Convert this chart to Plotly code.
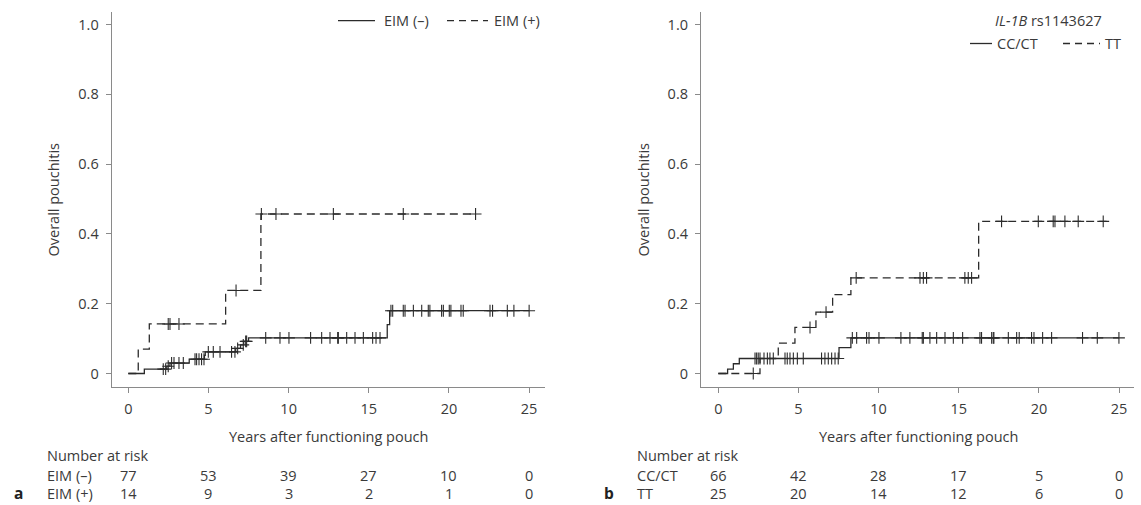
import numpy as np
import plotly.graph_objects as go

# ---------------- data ----------------
x_ticks = [0, 5, 10, 15, 20, 25]
y_ticks = [0, 0.2, 0.4, 0.6, 0.8, 1.0]
y_ticktext = ["0", "0.2", "0.4", "0.6", "0.8", "1.0"]

# Panel a: EIM (-) solid
a_neg_event_t = [1.0, 2.4, 2.6, 3.8, 4.75, 4.8, 6.7, 7.0, 7.2, 7.5, 16.15, 16.3]
a_neg_event_v = [0.0125, 0.021, 0.030, 0.041, 0.052, 0.062, 0.072, 0.082, 0.092, 0.102, 0.14, 0.18]
a_neg_end = 25.0
a_neg_censor = [2.18, 2.33, 2.49, 2.70, 2.85, 3.16, 3.43, 4.16, 4.26, 4.41, 4.57, 4.72,
                4.99, 5.30, 5.72, 6.44, 6.65, 6.82, 7.17, 7.32, 7.38, 8.57, 9.46, 10.02,
                11.37, 12.06, 12.58, 13.06, 13.10, 13.62, 14.14, 14.66, 15.24, 15.45,
                15.70, 16.38, 16.49, 17.15, 17.26, 17.78, 18.30, 18.71, 18.81, 19.54,
                19.65, 20.02, 20.12, 20.75, 20.89, 22.56, 22.72, 23.64, 24.05, 25.0]

# Panel a: EIM (+) dashed
a_pos_event_t = [0.62, 1.31, 6.07, 8.27]
a_pos_event_v = [0.070, 0.142, 0.238, 0.457]
a_pos_end = 21.66
a_pos_censor = [2.49, 2.60, 3.16, 6.72, 8.3, 9.21, 12.79, 17.15, 21.66]

# Panel b: CC/CT solid
b_cc_event_t = [0.58, 0.94, 1.31, 7.53, 8.27]
b_cc_event_v = [0.0125, 0.028, 0.043, 0.074, 0.102]
b_cc_end = 25.0
b_cc_censor = [2.29, 2.39, 2.49, 2.60, 2.85, 3.06, 3.22, 3.43, 4.16, 4.30, 4.47, 4.68,
               4.93, 5.30, 6.44, 6.65, 6.86, 7.07, 7.28, 7.48, 8.36, 8.63, 9.25, 9.40,
               10.02, 11.39, 11.95, 12.72, 12.79, 13.20, 13.62, 14.14, 14.66, 15.24,
               16.32, 16.42, 17.05, 17.15, 17.19, 18.09, 18.61, 18.77, 19.54, 19.69,
               20.23, 20.79, 22.72, 23.64, 24.99]

# Panel b: TT dashed
b_tt_event_t = [2.6, 3.74, 4.78, 6.09, 7.13, 8.27, 16.24]
b_tt_event_v = [0.043, 0.087, 0.132, 0.176, 0.226, 0.274, 0.436]
b_tt_end = 24.22
b_tt_censor = [2.18, 5.72, 6.72, 8.6, 12.58, 12.79, 12.99, 15.38, 15.59, 15.80,
               17.67, 19.96, 20.89, 21.00, 21.62, 22.45, 24.01]

# Number at risk
risk_a_labels = ["EIM (\u2013)", "EIM (+)"]
risk_a_neg = [77, 53, 39, 27, 10, 0]
risk_a_pos = [14, 9, 3, 2, 1, 0]
risk_b_labels = ["CC/CT", "TT"]
risk_b_cc = [66, 42, 28, 17, 5, 0]
risk_b_tt = [25, 20, 14, 12, 6, 0]

# ---------------- style ----------------
W, H = 1141, 505
FONT = "Open Sans"
TXT = "#3a3a3a"
LINE = "#2b2b2b"
AXIS = "#8a8a8a"
FS = 14.5
DASH = "8px,5px"

def px(x):
    return x / W

def py(y):
    return 1 - y / H

# plot areas in pixels
A_X0, A_X1 = 111.7, 545.0
B_X0, B_X1 = 701.0, 1134.0
Y_TOP, Y_BOT = 11.7, 387.3
XR_A = [-1.036, 25.99]
XR_B = [-1.08, 25.93]
YR = [-0.0395, 1.0367]


def step_xy(times, vals, end):
    xs = [0.0] + list(times) + [end]
    ys = [0.0] + list(vals) + [vals[-1]]
    return xs, ys


def step_lookup(times, vals, t):
    y = 0.0
    for ti, vi in zip(times, vals):
        if t >= ti - 1e-9:
            y = vi
    return y


fig = go.Figure()


def add_curve(times, vals, end, censor, dash, xa, ya):
    xs, ys = step_xy(times, vals, end)
    fig.add_trace(go.Scatter(x=xs, y=ys, mode="lines", line_shape="hv",
                             line=dict(color=LINE, width=1.3, dash=dash),
                             xaxis=xa, yaxis=ya, showlegend=False, hoverinfo="skip"))
    cy = [step_lookup(times, vals, t) for t in censor]
    fig.add_trace(go.Scatter(x=censor, y=cy, mode="markers",
                             marker=dict(symbol="cross-thin", size=8.5, color=LINE,
                                         line=dict(width=1.1, color=LINE)),
                             xaxis=xa, yaxis=ya, showlegend=False, hoverinfo="skip"))


add_curve(a_neg_event_t, a_neg_event_v, a_neg_end, a_neg_censor, "solid", "x", "y")
add_curve(a_pos_event_t, a_pos_event_v, a_pos_end, a_pos_censor, DASH, "x", "y")
add_curve(b_cc_event_t, b_cc_event_v, b_cc_end, b_cc_censor, "solid", "x2", "y2")
add_curve(b_tt_event_t, b_tt_event_v, b_tt_end, b_tt_censor, DASH, "x2", "y2")

axis_common = dict(showline=True, linecolor=AXIS, linewidth=1.2, ticks="outside",
                   ticklen=5, tickcolor=AXIS, tickwidth=1.2, showgrid=False,
                   zeroline=False, tickfont=dict(family=FONT, size=FS, color=TXT))

fig.update_layout(
    width=W, height=H, margin=dict(l=0, r=0, t=0, b=0),
    paper_bgcolor="white", plot_bgcolor="white",
    font=dict(family=FONT, size=FS, color=TXT),
    xaxis=dict(domain=[px(A_X0), px(A_X1)], range=XR_A, tickvals=x_ticks,
               anchor="y", ticklabelstandoff=3, **axis_common),
    yaxis=dict(domain=[py(Y_BOT), py(Y_TOP)], range=YR, tickvals=y_ticks,
               ticktext=y_ticktext, anchor="x", ticklabelstandoff=4, **axis_common),
    xaxis2=dict(domain=[px(B_X0), px(B_X1)], range=XR_B, tickvals=x_ticks,
                anchor="y2", ticklabelstandoff=3, **axis_common),
    yaxis2=dict(domain=[py(Y_BOT), py(Y_TOP)], range=YR, tickvals=y_ticks,
                ticktext=y_ticktext, anchor="x2", ticklabelstandoff=4, **axis_common),
)

ann = []


def text(x, y, s, xanchor="center", size=FS, bold=False, angle=0):
    ann.append(dict(x=px(x), y=py(y), xref="paper", yref="paper", text=s,
                    showarrow=False, xanchor=xanchor, yanchor="middle",
                    textangle=angle,
                    font=dict(family=FONT, size=size, color=("#222" if bold else TXT))))


for off in [0, 590]:
    text(53 + off, 199.5, "Overall pouchitis", angle=-90)
    text(328.5 + off, 436.5, "Years after functioning pouch")
    text(45 + off, 455, "Number at risk", xanchor="left")

A_PXPY = (A_X1 - A_X0) / (XR_A[1] - XR_A[0])
B_PXPY = (B_X1 - B_X0) / (XR_B[1] - XR_B[0])


def xa_px(t):
    return A_X0 + (t - XR_A[0]) * A_PXPY


def xb_px(t):
    return B_X0 + (t - XR_B[0]) * B_PXPY


for row_y, lab, vals in [(475, risk_a_labels[0], risk_a_neg), (493.5, risk_a_labels[1], risk_a_pos)]:
    text(45, row_y, lab, xanchor="left")
    for t, v in zip(x_ticks, vals):
        text(xa_px(t), row_y, str(v))
for row_y, lab, vals in [(475, risk_b_labels[0], risk_b_cc), (493.5, risk_b_labels[1], risk_b_tt)]:
    text(635, row_y, lab, xanchor="left")
    for t, v in zip(x_ticks, vals):
        text(xb_px(t), row_y, str(v))

text(18.5, 493, "<b>a</b>", size=15.5, bold=True)
text(608.5, 493, "<b>b</b>", size=15.5, bold=True)

# legends
text(382, 20.7, "EIM (\u2013)", xanchor="left")
text(491.5, 20.7, "EIM (+)", xanchor="left")
text(993, 20, "<i>IL-1B</i> rs1143627", xanchor="left")
text(995, 43.5, "CC/CT", xanchor="left")
text(1103, 43.5, "TT", xanchor="left")

shapes = []


def seg(x0, x1, y, dash):
    shapes.append(dict(type="line", xref="paper", yref="paper",
                       x0=px(x0), x1=px(x1), y0=py(y), y1=py(y),
                       line=dict(color=LINE, width=1.3, dash=dash)))


seg(338, 375, 20.7, "solid")
seg(447, 488, 20.7, "7px,5px")
seg(970, 992, 43.5, "solid")
seg(1063, 1100, 43.5, "7px,5px")

fig.update_layout(annotations=ann, shapes=shapes)
fig.write_html("out.html",
               config={"displayModeBar": False},
               post_script="document.body.style.margin='0';document.body.style.overflow='hidden';")
